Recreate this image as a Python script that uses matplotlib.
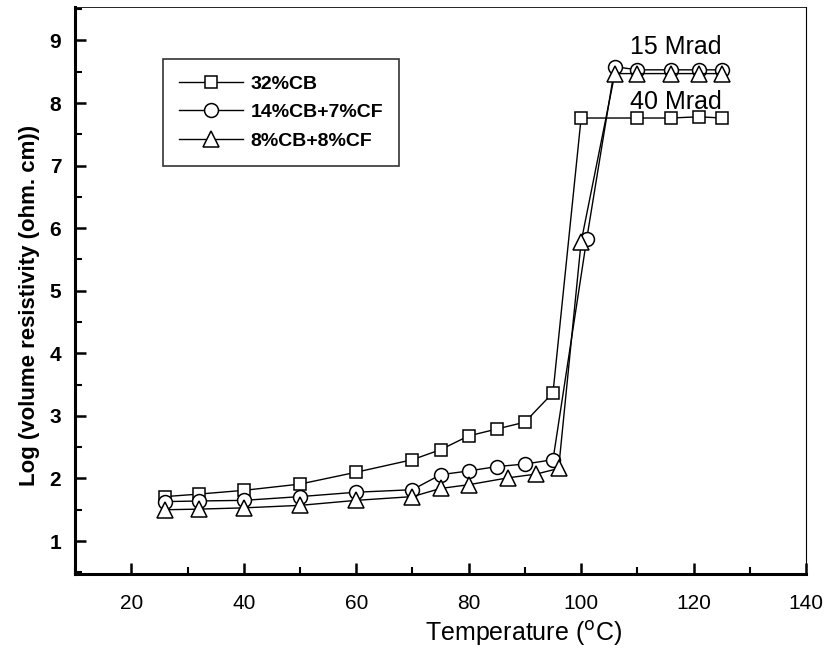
import numpy as np
import matplotlib
matplotlib.use("Agg")
import matplotlib.pyplot as plt
from matplotlib.ticker import MultipleLocator

plt.rcParams["font.family"] = ["Liberation Sans", "DejaVu Sans"]

# 32%CB
t_cb = [26, 32, 40, 50, 60, 70, 75, 80, 85, 90, 95, 100, 110, 116, 121, 125]
r_cb = [1.71, 1.75, 1.81, 1.91, 2.10, 2.30, 2.46, 2.68, 2.79, 2.90, 3.37,
        7.76, 7.76, 7.76, 7.78, 7.76]

# 14%CB+7%CF
t_cbcf = [26, 32, 40, 50, 60, 70, 75, 80, 85, 90, 95, 101, 106, 110, 116, 121, 125]
r_cbcf = [1.63, 1.64, 1.65, 1.71, 1.78, 1.82, 2.06, 2.12, 2.19, 2.23, 2.30,
          5.83, 8.58, 8.53, 8.53, 8.53, 8.53]

# 8%CB+8%CF
t_eq = [26, 32, 40, 50, 60, 70, 75, 80, 87, 92, 96, 100, 106, 110, 116, 121, 125]
r_eq = [1.50, 1.51, 1.53, 1.57, 1.65, 1.71, 1.84, 1.90, 2.01, 2.07, 2.16,
        5.78, 8.47, 8.47, 8.47, 8.47, 8.47]

labels = ["32%CB", "14%CB+7%CF", "8%CB+8%CF"]

fig = plt.figure(figsize=(8.25, 6.6), dpi=100)
ax = fig.add_axes([0.091, 0.130, 0.886, 0.859])

style = dict(color="black", linewidth=1.0, markerfacecolor="white",
             markeredgecolor="black", markeredgewidth=1.1)
ax.plot(t_cb, r_cb, marker="s", markersize=9, label=labels[0], **style)
ax.plot(t_cbcf, r_cbcf, marker="o", markersize=10, label=labels[1], **style)
ax.plot(t_eq, r_eq, marker="^", markersize=11, label=labels[2], **style)

# dose annotations
ax.text(116.8, 8.89, "15 Mrad", fontsize=18, ha="center", va="center")
ax.text(116.8, 8.01, "40 Mrad", fontsize=18, ha="center", va="center")

ax.set_xlim(10, 140)
ax.set_ylim(0.47, 9.53)
ax.xaxis.set_minor_locator(MultipleLocator(10))
ax.yaxis.set_minor_locator(MultipleLocator(0.5))
ax.set_xticks(np.arange(20, 141, 20))
ax.set_yticks(np.arange(1, 10, 1))

ax.tick_params(which="both", direction="in", top=False, right=False)
ax.tick_params(which="major", length=8, width=1.8)
ax.tick_params(which="minor", length=5, width=1.5)
ax.tick_params(axis="x", labelsize=15, pad=14)
ax.tick_params(axis="y", labelsize=15, pad=10)
for lab in ax.get_yticklabels():
    lab.set_fontweight("bold")

ax.spines["left"].set_linewidth(2.2)
ax.spines["bottom"].set_linewidth(2.2)
ax.spines["right"].set_linewidth(0.8)
ax.spines["top"].set_linewidth(0.6)

ax.set_xlabel("Temperature ($^{\\rm o}$C)", fontsize=18)
ax.xaxis.set_label_coords(0.614, -0.079)
ax.set_ylabel("Log (volume resistivity (ohm. cm))", fontsize=16,
              fontweight="bold")
ax.yaxis.set_label_coords(-0.048, 0.474)

leg = ax.legend(loc="upper left", bbox_to_anchor=(0.12, 0.909),
                prop={"weight": "bold", "size": 14}, handlelength=3.25,
                handletextpad=0.4, frameon=True, fancybox=False,
                edgecolor="black", borderpad=0.85, labelspacing=0.55,
                borderaxespad=0)
leg.get_frame().set_linewidth(1.2)

fig.savefig("out.png", dpi=100)
